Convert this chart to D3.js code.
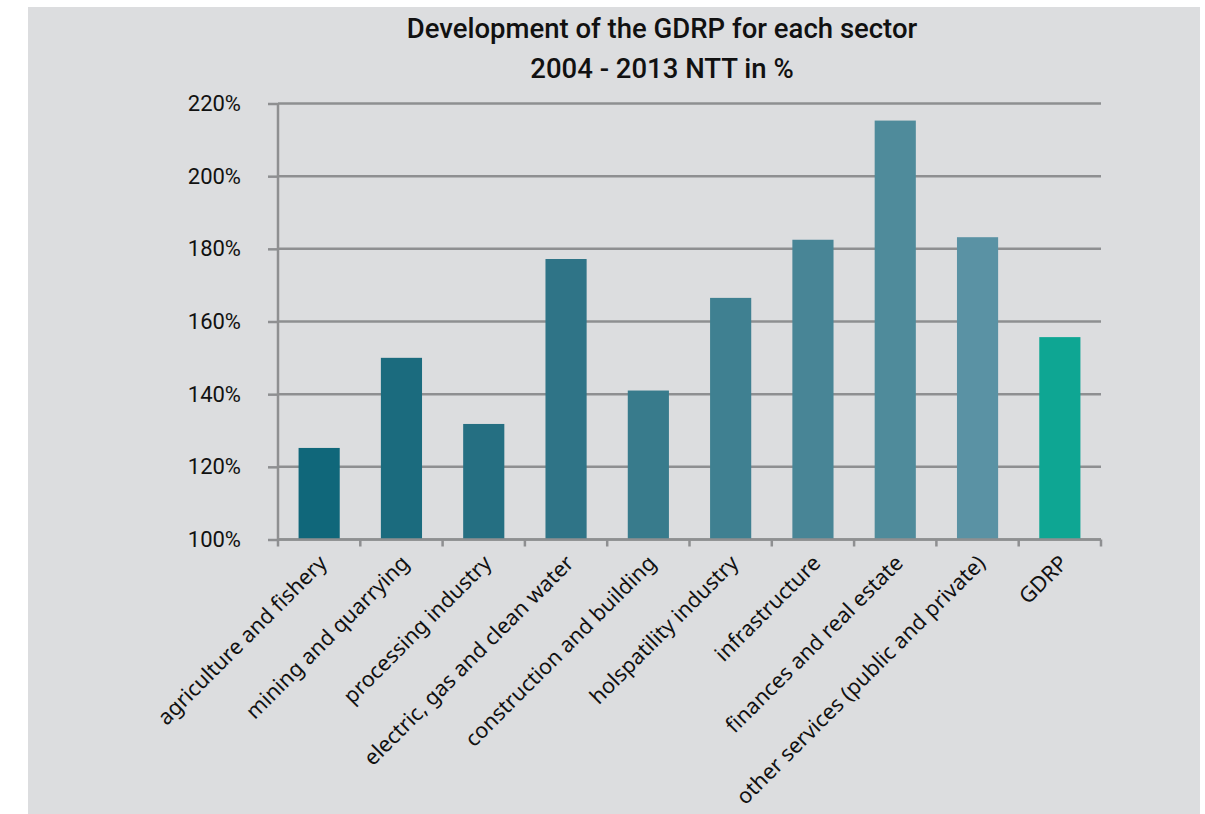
<!DOCTYPE html>
<html>
<head>
<meta charset="utf-8">
<script src="https://cdn.jsdelivr.net/npm/d3@7"></script>
<style>
body { margin: 0; background: #fff; }
</style>
</head>
<body>
<svg id="canvas" width="1205" height="814"></svg>
<script>
// sectors, values (in %)
var categories = ["agriculture and fishery", "mining and quarrying", "processing industry",
	"electric, gas and clean water", "construction and building", "holspatility industry",
	"infrastructure", "finances and real estate", "other services (public and private)", "GDRP"];
var values = [125.2, 150, 131.8, 177.2, 141, 166.5, 182.5, 215.3, 183.2, 155.7];
var barColors = ["#10677a", "#1b6b7e", "#256f82", "#2f7487", "#387b8c", "#3f8091",
	"#488596", "#4f8b9b", "#5a92a4", "#0ea693"];
var yTicks = [100, 120, 140, 160, 180, 200, 220];
var titleLines = ["Development of the GDRP for each sector", "2004 - 2013 NTT in %"];

var svg = d3.select("#canvas");

svg.append("rect")
	.attr("x", 28).attr("y", 7)
	.attr("width", 1172).attr("height", 807)
	.attr("fill", "#dcdddf");

var plotLeft = 278, plotRight = 1101, plotTop = 103.5, plotBottom = 539.5;
var gridColor = "#8e8f91";

var x = d3.scaleBand().domain(categories).range([plotLeft, plotRight]).paddingInner(0.5).paddingOuter(0.25);
var y = d3.scaleLinear().domain([100, 220]).range([plotBottom, plotTop]);

// y axis ticks + labels
var yAxis = svg.append("g")
	.attr("transform", "translate(" + plotLeft + ",0)")
	.call(d3.axisLeft(y).tickValues(yTicks).tickSize(10).tickFormat(function(d){ return d + "%"; }));
yAxis.select(".domain").remove();
yAxis.selectAll(".tick line").attr("stroke", gridColor).attr("stroke-width", 2.5);
yAxis.selectAll(".tick text")
	.attr("x", -37)
	.attr("fill", "#111")
	.style("font-family", "Roboto, 'Noto Sans', sans-serif")
	.style("font-size", "22px");

// gridlines
svg.append("g")
	.selectAll("line")
	.data(yTicks)
	.enter()
	.append("line")
	.attr("x1", plotLeft).attr("x2", plotRight)
	.attr("y1", function(d){ return y(d); })
	.attr("y2", function(d){ return y(d); })
	.attr("stroke", gridColor)
	.attr("stroke-width", 2.5);

svg.append("line")
	.attr("x1", plotLeft).attr("x2", plotLeft)
	.attr("y1", plotTop).attr("y2", plotBottom)
	.attr("stroke", gridColor).attr("stroke-width", 2.5);

// bars
svg.append("g")
	.selectAll("rect")
	.data(values)
	.enter()
	.append("rect")
	.attr("x", function(d, i){ return x(categories[i]); })
	.attr("y", function(d){ return y(d); })
	.attr("width", x.bandwidth())
	.attr("height", function(d){ return plotBottom - y(d); })
	.attr("fill", function(d, i){ return barColors[i]; });

// x axis with ticks between categories
var step = x.step();
var xTickPos = d3.range(categories.length + 1).map(function(i){ return plotLeft + i * step; });
var xAxis = svg.append("g").attr("transform", "translate(0," + plotBottom + ")");
xAxis.append("line")
	.attr("x1", plotLeft).attr("x2", plotRight)
	.attr("stroke", gridColor).attr("stroke-width", 2.5);
xAxis.selectAll(".xt")
	.data(xTickPos)
	.enter()
	.append("line")
	.attr("class", "xt")
	.attr("x1", function(d){ return d; }).attr("x2", function(d){ return d; })
	.attr("y1", 0).attr("y2", 7)
	.attr("stroke", gridColor).attr("stroke-width", 2.5);

svg.append("g")
	.selectAll("text")
	.data(categories)
	.enter()
	.append("text")
	.attr("transform", function(d){
		var cx = x(d) + x.bandwidth() / 2 + 9;
		return "translate(" + cx + "," + (plotBottom + 25) + ") rotate(-45)";
	})
	.attr("text-anchor", "end")
	.attr("fill", "#111")
	.style("font-family", "'Noto Sans', sans-serif")
	.style("font-size", "21.5px")
	.text(function(d){ return d; });

// title
svg.append("g")
	.selectAll("text")
	.data(titleLines)
	.enter()
	.append("text")
	.attr("x", 662)
	.attr("y", function(d, i){ return 38 + i * 40; })
	.attr("text-anchor", "middle")
	.attr("fill", "#111")
	.style("font-family", "Roboto, sans-serif")
	.style("font-size", "27.5px")
	.style("font-weight", "500")
	.text(function(d){ return d; });
</script>
</body>
</html>
